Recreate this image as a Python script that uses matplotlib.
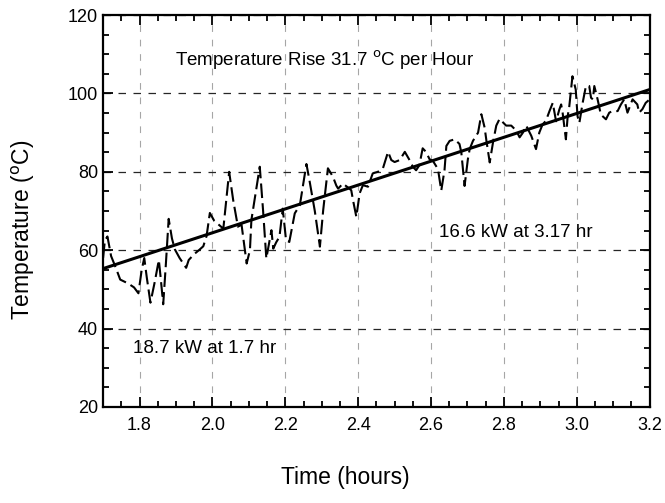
import numpy as np
import matplotlib
matplotlib.use('Agg')
import matplotlib.pyplot as plt
from matplotlib.ticker import MultipleLocator

plt.rcParams.update({
    'font.family': ['Liberation Sans', 'DejaVu Sans'],
    'axes.linewidth': 1.6,
    'xtick.labelsize': 13,
    'ytick.labelsize': 13,
})

time_h = [1.700, 1.705, 1.712, 1.722, 1.735, 1.747, 1.769, 1.785, 1.797, 1.806,
          1.813, 1.820, 1.830, 1.842, 1.853, 1.858, 1.865, 1.872, 1.880, 1.889,
          1.897, 1.910, 1.928, 1.935, 1.950, 1.963, 1.975, 1.984, 1.993, 2.005,
          2.030, 2.046, 2.057, 2.070, 2.080, 2.094, 2.103, 2.107, 2.130, 2.139,
          2.148, 2.162, 2.167, 2.175, 2.184, 2.193, 2.202, 2.211, 2.226, 2.240,
          2.258, 2.266, 2.281, 2.295, 2.304, 2.317, 2.331, 2.340, 2.345, 2.358,
          2.372, 2.381, 2.386, 2.395, 2.404, 2.413, 2.427, 2.440, 2.454, 2.468,
          2.482, 2.491, 2.500, 2.514, 2.528, 2.541, 2.550, 2.559, 2.568, 2.577,
          2.586, 2.596, 2.605, 2.619, 2.628, 2.637, 2.642, 2.651, 2.665, 2.678,
          2.683, 2.692, 2.701, 2.706, 2.715, 2.729, 2.738, 2.747, 2.752, 2.761,
          2.770, 2.779, 2.788, 2.806, 2.820, 2.834, 2.843, 2.852, 2.861, 2.875,
          2.888, 2.897, 2.906, 2.915, 2.925, 2.934, 2.943, 2.952, 2.957, 2.961,
          2.970, 2.975, 2.979, 2.988, 2.997, 3.002, 3.007, 3.016, 3.025, 3.034,
          3.039, 3.044, 3.048, 3.057, 3.066, 3.080, 3.089, 3.098, 3.112, 3.121,
          3.130, 3.139, 3.153, 3.166, 3.171, 3.180, 3.189, 3.200]
temp_c = [58.0, 62.5, 63.5, 58.5, 55.5, 52.5, 51.5, 50.5, 49.0, 55.0,
          58.0, 53.0, 46.6, 52.0, 57.5, 53.0, 46.2, 56.0, 68.0, 63.0,
          60.2, 58.0, 55.5, 57.5, 59.0, 60.0, 61.0, 63.6, 69.5, 67.5,
          65.5, 80.0, 72.8, 66.0, 66.5, 56.6, 60.0, 67.7, 81.3, 70.2,
          57.9, 65.1, 60.4, 62.0, 63.4, 70.6, 62.6, 62.1, 69.4, 71.5,
          82.0, 78.0, 70.0, 60.9, 70.2, 80.9, 78.7, 76.5, 75.7, 77.0,
          76.0, 75.3, 72.7, 68.5, 74.5, 76.6, 76.2, 79.6, 80.0, 80.9,
          85.1, 83.0, 82.5, 83.0, 85.1, 83.0, 81.3, 80.4, 81.7, 86.0,
          85.1, 83.2, 82.8, 80.7, 75.2, 80.5, 86.6, 87.9, 88.3, 87.1,
          85.0, 76.4, 83.2, 85.8, 87.9, 90.0, 94.7, 91.3, 87.9, 82.4,
          87.5, 91.8, 93.5, 91.8, 91.8, 90.5, 88.8, 90.0, 91.8, 89.2,
          85.8, 90.0, 92.1, 93.0, 95.5, 97.6, 92.9, 95.9, 97.2, 95.1,
          88.3, 94.3, 96.4, 104.4, 101.0, 94.2, 92.5, 97.6, 101.9, 101.9,
          98.9, 98.5, 101.9, 98.5, 94.6, 93.4, 95.1, 95.5, 95.5, 97.2,
          98.5, 95.1, 98.5, 97.2, 95.1, 96.0, 97.6, 98.5]

# linear fit end points
fit_t = [1.7, 3.2]
fit_temp = [55.3, 101.0]

fig = plt.figure(figsize=(6.65, 5.03), dpi=100)
ax = fig.add_axes([0.155, 0.191, 0.822, 0.779])

ax.plot(time_h, temp_c, color='black', lw=1.5, linestyle=(0, (7, 2.5)))
ax.plot(fit_t, fit_temp, color='black', lw=2.2)

ax.set_xlim(1.7, 3.2)
ax.set_ylim(20, 120)
ax.set_xticks([1.8, 2.0, 2.2, 2.4, 2.6, 2.8, 3.0, 3.2])
ax.set_yticks([20, 40, 60, 80, 100, 120])
ax.xaxis.set_minor_locator(MultipleLocator(0.05))
ax.yaxis.set_minor_locator(MultipleLocator(5))
ax.tick_params(which='both', direction='in', top=True, right=True, width=1.3)
ax.tick_params(which='major', length=7)
ax.tick_params(which='minor', length=4)
ax.tick_params(axis='x', pad=7)

ax.grid(axis='x', color='0.65', lw=0.8, linestyle=(0, (6, 7)))
ax.grid(axis='y', color='0.15', lw=0.9, linestyle=(0, (6, 6)))

ax.text(1.897, 108.5, r'Temperature Rise 31.7 $^{\rm o}$C per Hour', fontsize=13.5, va='center')
ax.text(2.623, 64.6, '16.6 kW at 3.17 hr', fontsize=13.5, va='center')
ax.text(1.782, 35.0, '18.7 kW at 1.7 hr', fontsize=13.5, va='center')

fig.text(0.519, 0.05, 'Time (hours)', fontsize=16.5, ha='center', va='center')
fig.text(0.035, 0.543, r'Temperature ($^{\rm o}$C)', fontsize=16.5, ha='center', va='center',
         rotation=90)

fig.savefig('out.png', dpi=100)
